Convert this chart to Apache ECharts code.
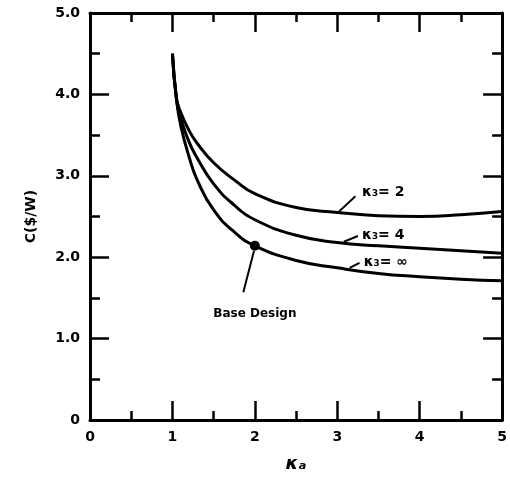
<!DOCTYPE html>
<html><head><meta charset="utf-8">
<script src="https://cdn.jsdelivr.net/npm/echarts@6/dist/echarts.min.js"></script>
<style>html,body{margin:0;padding:0;background:#fff}#c{width:510px;height:478px}</style>
</head><body><div id="c"></div>
<script>
// Data
const kappaA = [1.0, 1.05, 1.1, 1.2, 1.3, 1.5, 1.75, 2.0, 2.5, 3.0, 3.5, 4.0, 4.5, 5.0];
const costK3_2   = [4.5, 3.95, 3.78, 3.56, 3.40, 3.16, 2.95, 2.78, 2.61, 2.55, 2.51, 2.50, 2.52, 2.56];
const costK3_4   = [4.5, 3.93, 3.71, 3.42, 3.22, 2.90, 2.64, 2.46, 2.27, 2.18, 2.14, 2.11, 2.08, 2.05];
const costK3_inf = [4.5, 3.93, 3.62, 3.24, 2.95, 2.58, 2.31, 2.14, 1.96, 1.87, 1.80, 1.76, 1.73, 1.71];
const seriesNames = ['κ₃= 2', 'κ₃= 4', 'κ₃= ∞'];
const xTicks = [0, 1, 2, 3, 4, 5];
const yTicks = [0, 1, 2, 3, 4, 5];
const baseDesign = [2.0, 2.14];
// annotation anchors in data units: [labelX, labelY, arrowFromX, arrowFromY, arrowToX, arrowToY]
const labelAnchors = [
  [3.3, 2.80, 3.22, 2.75, 3.02, 2.56],
  [3.3, 2.27, 3.25, 2.26, 3.08, 2.19],
  [3.32, 1.94, 3.27, 1.93, 3.15, 1.87]
];
const baseDesignLabel = [2.0, 1.3, 1.86, 1.57, 1.99, 2.08];

const FONT = 'DejaVu Sans';
const black = '#000';
const allCurves = [costK3_2, costK3_4, costK3_inf];

const series = allCurves.map((vals, i) => {
  const a = labelAnchors[i];
  const s = {
    type: 'line', name: seriesNames[i],
    data: kappaA.map((x, j) => [x, vals[j]]),
    showSymbol: false, smooth: 0.5,
    lineStyle: { color: black, width: 3 },
    z: 3,
    markLine: {
      silent: true, symbol: ['none', 'arrow'], symbolSize: [0, 10],
      lineStyle: { color: black, width: 2, type: 'solid' },
      label: { show: false },
      data: [[{ coord: [a[2], a[3]] }, { coord: [a[4], a[5]] }]]
    },
    markPoint: {
      silent: true, symbol: 'circle', symbolSize: 0,
      label: { show: true, position: 'right', distance: 0, color: black, fontFamily: FONT, fontWeight: 'bold', fontSize: 14, formatter: seriesNames[i] },
      data: [{ coord: [a[0], a[1]] }]
    }
  };
  if (i === 2) {
    s.markLine.data.push([{ coord: [baseDesignLabel[2], baseDesignLabel[3]] }, { coord: [baseDesignLabel[4], baseDesignLabel[5]] }]);
    s.markPoint.data.push({ coord: baseDesign, symbol: 'circle', symbolSize: 10, itemStyle: { color: black }, label: { show: false } });
    s.markPoint.data.push({ coord: [baseDesignLabel[0], baseDesignLabel[1]], symbolSize: 0,
      label: { show: true, position: 'inside', color: black, fontFamily: FONT, fontWeight: 'bold', fontSize: 12, formatter: 'Base Design' } });
  }
  return s;
});

const axisLine = { show: true, onZero: false, lineStyle: { color: black, width: 3 } };
const tickStyle = { color: black, width: 2.5 };
const mkX = (pos, labels) => ({
  type: 'value', position: pos, min: xTicks[0], max: xTicks[xTicks.length - 1], interval: 1,
  axisLine, splitLine: { show: false },
  axisTick: { show: true, inside: true, length: 19, lineStyle: tickStyle },
  minorTick: { show: true, splitNumber: 2, length: 9, lineStyle: tickStyle },
  axisLabel: { show: labels, color: black, fontFamily: FONT, fontWeight: 'bold', fontSize: 14, margin: 10, formatter: v => String(v) },
  name: labels ? 'κₐ' : '', nameLocation: 'middle', nameGap: 35,
  nameTextStyle: { color: black, fontFamily: FONT, fontWeight: 'bold', fontSize: 18, fontStyle: 'italic' }
});
const mkY = (pos, labels) => ({
  type: 'value', position: pos, min: yTicks[0], max: yTicks[yTicks.length - 1], interval: 1,
  axisLine, splitLine: { show: false },
  axisTick: { show: true, inside: true, length: 19, lineStyle: tickStyle },
  minorTick: { show: true, splitNumber: 2, length: 10, lineStyle: tickStyle },
  axisLabel: { show: labels, color: black, fontFamily: FONT, fontWeight: 'bold', fontSize: 14, margin: 10, formatter: v => v === 0 ? '0' : v.toFixed(1) },
  name: labels ? 'C($/W)' : '', nameLocation: 'middle', nameGap: 52, nameRotate: 90,
  nameTextStyle: { color: black, fontFamily: FONT, fontWeight: 'bold', fontSize: 14 }
});

const chart = echarts.init(document.getElementById('c'), null, { renderer: 'canvas' });
chart.setOption({
  backgroundColor: '#fff',
  animation: false,
  grid: { left: 90, right: 2, top: 13, bottom: 50, containLabel: false },
  xAxis: [mkX('bottom', true), mkX('top', false)],
  yAxis: [mkY('left', true), mkY('right', false)],
  series
});
</script></body></html>
